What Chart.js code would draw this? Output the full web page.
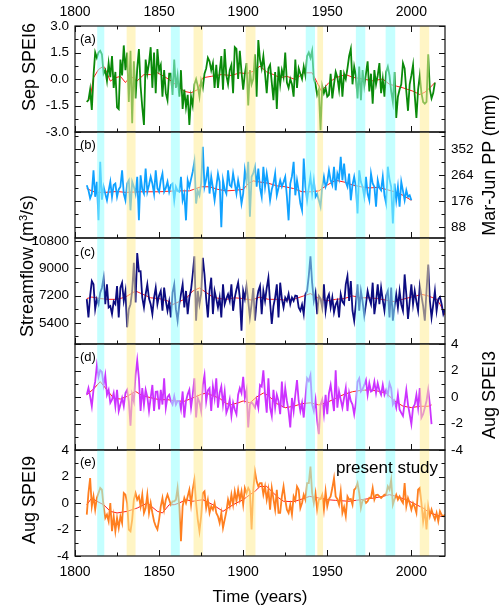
<!DOCTYPE html>
<html><head><meta charset="utf-8">
<script src="https://cdn.jsdelivr.net/npm/chart.js@4/dist/chart.umd.min.js"></script>
<style>
html,body{margin:0;padding:0;background:#fff;}
#wrap{position:relative;width:500px;height:613px;overflow:hidden;font-family:"Liberation Sans",Arial,sans-serif;color:#000;}
canvas{position:absolute;left:0;top:0;}
.yt{position:absolute;font-size:18px;white-space:nowrap;transform:translate(-50%,-50%) rotate(-90deg);line-height:1;}
.yt sup{font-size:11px;vertical-align:6px;line-height:0;}
.pl{position:absolute;font-size:13px;line-height:1;transform:translateY(-50%);}
</style></head><body>
<div id="wrap">
<canvas id="c0" width="500" height="613"></canvas>
<canvas id="c1" width="500" height="613"></canvas>
<canvas id="c2" width="500" height="613"></canvas>
<canvas id="c3" width="500" height="613"></canvas>
<canvas id="c4" width="500" height="613"></canvas>
<div class="yt" style="left:29px;top:67px;">Sep SPEI6</div>
<div class="yt" style="left:489px;top:165px;">Mar-Jun PP (mm)</div>
<div class="yt" style="left:27px;top:266px;">Streamflow (m<sup>3</sup>/s)</div>
<div class="yt" style="left:489px;top:395px;">Aug SPEI3</div>
<div class="yt" style="left:29px;top:500px;">Aug SPEI9</div>
<div class="pl" style="left:80px;top:37.5px;">(a)</div>
<div class="pl" style="left:80px;top:144px;">(b)</div>
<div class="pl" style="left:80px;top:251px;">(c)</div>
<div class="pl" style="left:80px;top:356px;">(d)</div>
<div class="pl" style="left:80px;top:461px;">(e)</div>
<div class="pl" style="left:336px;top:467px;font-size:17px;">present study</div>
</div>
<script>
// ---------------- DATA ----------------
// highlighted periods (years)
const cyanBands = [[1813.2,1817.4],[1857.0,1862.3],[1937.2,1942.7],[1967.0,1972.6],[1984.7,1990.4]];
const yellowBands = [[1830.7,1836.0],[1870.5,1876.0],[1901.5,1907.3],[1944.1,1947.5],[2005.0,2010.6]];

// (a) Sep SPEI6, annual from 1807
const speiSepStart = 1807;
const speiSep = [-1.3,-1.2,-0.6,-1.75,0.2,1.5,1.2,1.5,1.6,1.4,0.3,0.5,-0.1,0.9,0.1,1.3,-0.5,0.4,-1.6,-1.7,
1.1,0.2,1.9,0.5,1.5,-1.3,1.6,-2.5,1.0,-1.1,0.6,1.7,-0.4,-1.6,-2.6,1.1,0.3,0.9,1.8,-0.5,
1.5,-0.8,1.7,0.5,0.8,-1.0,0.5,-0.8,-1.2,0.3,0.3,-0.9,1.1,-0.5,0.2,-1.0,0.5,-1.7,-0.6,-1.6,
-0.9,-2.6,-1.0,-1.5,-0.3,0.0,-0.4,-1.0,-0.1,-0.5,0.3,0.6,1.2,1.0,0.5,0.9,-0.5,0.8,-0.5,0.4,
1.3,-0.6,1.7,0.2,-0.3,0.5,0.8,-0.8,1.8,1.7,0.0,1.6,0.4,-0.6,0.3,0.9,-1.5,0.5,-0.3,0.0,
1.4,-1.0,2.2,1.1,0.6,1.3,0.3,-0.8,0.6,0.8,-0.2,-1.2,0.4,-1.7,0.7,-0.3,0.5,0.1,1.5,-0.2,
-0.5,0.0,-0.3,-1.0,1.1,-0.5,0.6,0.3,0.0,0.7,0.2,1.3,1.5,1.2,1.6,0.0,-0.3,-0.9,-0.6,-2.9,
-0.4,-0.8,-0.5,-1.0,-0.9,0.3,-1.1,-0.3,0.4,0.1,-0.6,0.5,-1.0,0.3,0.0,0.6,1.3,1.7,-0.3,0.7,
0.2,-1.1,0.7,-1.2,0.5,-0.4,0.3,1.0,-0.7,0.3,-1.4,0.5,-0.3,0.2,0.9,-0.8,0.0,-1.0,0.4,0.7,
0.2,-0.7,-1.3,0.4,-2.2,-1.0,-0.6,-0.3,0.9,0.6,-0.7,-1.8,-0.3,0.2,0.8,-0.9,-2.2,-0.6,0.2,-0.8,
-1.3,-1.4,-1.3,1.4,-0.6,-1.1,-0.8,-0.2];
const speiSepSmYears = [1807,1809,1811,1814,1817,1819,1821,1824,1827,1830,1833,1837,1841,1845,1849,1853,1857,1861,1865,1869,1873,1876,1881,1887,1893,1898,1902,1906,1910,1914,1918,1922,1926,1931,1936,1941,1944,1946.5,1951,1955,1961,1965,1971,1977,1983,1987,1991,1995,2001,2005,2008,2011,2014];
const speiSepSm = [-1.3,-1.07,0.07,0.54,0.73,0.35,-0.12,0.07,0.15,-0.2,0.15,-0.1,0.25,0.25,0.35,0.15,-0.1,-0.4,-0.7,-0.78,-0.6,0.07,0.15,0.25,0.2,0.35,0.3,0.44,0.73,0.4,0.25,0.07,0.15,-0.03,0.35,0.35,-0.2,-0.69,-0.2,0.07,0.25,0.1,0.0,-0.1,0.0,-0.3,-0.4,-0.5,-0.69,-0.88,-0.75,-0.5,-0.2];

// (b) Mar-Jun precipitation (mm), annual from 1807
const ppStart = 1807;
const pp = [229,212,185,200,280,190,241,110,309,180,224,200,178,210,241,190,230,235,190,215,
224,280,200,178,235,246,144,241,224,200,258,110,263,215,201,286,207,230,258,235,
200,280,218,207,246,269,207,220,241,207,230,235,178,224,210,207,258,178,200,110,
246,224,250,275,309,167,210,195,235,360,224,250,292,201,258,220,178,224,269,240,
87,246,215,201,280,230,224,269,235,201,246,215,167,201,280,240,309,122,258,270,
292,224,286,220,190,292,224,269,230,178,215,235,269,195,220,246,224,240,258,190,
110,235,260,309,195,246,210,167,144,320,224,178,220,258,201,246,190,200,178,156,
224,258,224,240,280,246,230,292,212,269,250,326,246,303,240,224,269,178,230,258,
224,133,280,240,224,190,258,200,178,269,235,224,156,246,220,212,258,195,167,292,
250,224,99,235,178,224,156,241,210,178,212,190,195,178];
const ppSmYears = [1807,1812,1818,1825,1830,1840,1850,1860,1868,1875,1880,1885,1890,1895,1900,1903,1906,1910,1915,1920,1925,1930,1935,1940,1945,1950,1955,1960,1965,1970,1975,1980,1985,1990,1995,2000];
const ppSm = [218,205,205,208,205,207,207,210,210,224,224,215,210,212,215,235,244,240,236,227,224,218,207,207,210,230,246,240,230,224,220,222,215,207,195,178];

// (c) Streamflow (m3/s), annual from 1807
const flowStart = 1807;
const flow = [6958,5757,7176,8158,7940,6303,6958,6630,7394,7700,8376,6630,7940,6412,6500,5976,6800,6630,7830,5757,
7722,8049,6849,7500,5102,6300,6630,7503,9358,6740,10012,8800,8812,7067,6412,7285,7940,7000,6630,5976,
7067,7722,6630,7200,7503,6194,7722,6849,6194,6800,5757,7394,7940,6303,5540,6630,7300,7940,6412,7503,
5976,7067,7600,8594,9794,5540,7503,6630,7300,9685,8594,7000,5757,7503,8376,5976,7503,7000,6412,7067,
5757,7940,6630,7000,7285,6849,7940,6194,7067,7600,8049,7067,4885,7503,7000,7830,6849,5757,6630,7700,
5540,6849,7500,7830,5976,7503,6849,7700,8376,6740,5321,6500,7067,7940,5757,8049,7000,6412,7067,6849,
7300,6630,7067,6849,7200,7176,6412,6194,6600,5976,7285,7503,8500,9794,8049,6849,7394,5976,7176,7000,
6412,7940,6194,7000,7285,6412,7067,6085,6600,6849,5757,7285,6800,6630,7940,8485,6849,8158,6200,5540,
6630,7940,6194,7503,6800,5867,6630,7503,7000,6630,8049,5976,6800,7940,6630,7722,6900,6194,7200,7503,
5757,7722,5540,6500,7285,6412,7503,6600,6194,8594,7285,5650,6800,7940,6630,7503,6800,6194,7830,7176,
6500,5540,7503,9249,6849,5757,6600,7503,6194,6958,7100,6630,5976,6300];
const flowSmYears = [1807,1810,1815,1820,1825,1830,1833,1836,1840,1845,1850,1855,1858,1862,1866,1870,1874,1878,1882,1886,1890,1895,1900,1905,1910,1915,1920,1925,1930,1936,1940,1945,1950,1955,1960,1965,1970,1975,1980,1987,1990,1995,2000,2003,2006,2010,2015,2017,2019,2020];
const flowSm = [7000,7100,7000,6950,6950,7100,7300,7500,7300,7050,7000,6850,6600,6800,7000,7500,7700,7400,7100,7000,6950,7050,7000,6900,7100,6950,6950,6900,6950,7176,7330,7000,6850,6950,7000,7176,7050,7050,7000,6850,6800,6958,7100,7176,7285,7176,6958,6630,6194,5900];

// (d) Aug SPEI3, annual from 1807
const spei3Start = 1807;
const spei3 = [0.17,0.67,0.05,-0.7,0.54,1.16,2.4,1.53,2.02,1.9,0.91,1.65,0.17,0.54,-0.44,-0.2,0.3,-0.7,0.54,-1.06,
-0.57,-0.07,-0.69,0.3,0.54,-0.32,-2.17,0.17,-0.32,1.65,2.77,1.41,-1.06,0.67,-0.57,0.54,0.0,-1.06,-0.07,0.91,
-1.06,0.4,0.42,-0.94,0.54,-0.57,1.41,-0.81,0.0,0.17,-0.32,-0.57,0.05,-0.57,-0.3,-0.32,-0.94,0.42,-1.55,-0.32,
0.2,0.54,-0.81,0.17,1.41,-1.55,-0.07,-0.4,-1.06,0.91,1.65,-0.32,0.5,0.67,-1.06,0.79,-0.07,1.41,-0.81,0.3,
0.79,-0.57,0.42,-1.19,-0.81,-0.2,-1.43,-0.44,-0.94,-1.3,0.17,0.67,0.3,1.53,-0.07,0.54,-2.3,-0.57,-0.4,-0.57,
-0.81,-0.2,-0.81,0.91,0.79,2.02,0.17,-1.19,1.41,-0.81,-1.43,0.54,-0.81,0.17,-0.3,-1.3,1.16,-0.81,0.67,-0.3,
-1.06,-2.3,-0.07,-1.06,0.17,1.28,-0.3,-1.06,-0.44,-1.55,-0.07,1.41,1.2,1.65,-0.57,-1.06,-0.2,-1.8,-2.8,-0.57,
-0.2,-1.3,0.17,-1.3,0.3,0.91,-0.07,-1.06,2.02,-0.81,0.42,-0.2,-0.81,-0.07,0.67,-1.06,0.3,-0.3,-0.57,-1.3,
-0.44,1.16,1.41,0.42,0.6,0.91,1.28,0.17,1.04,0.42,0.5,1.16,0.3,1.04,0.5,0.17,0.91,0.17,0.54,0.17,
1.04,0.67,-0.57,-0.3,-0.81,0.17,-0.94,-1.2,-1.43,-0.44,0.54,-0.57,-1.3,-2.05,-0.8,-0.57,0.17,-0.81,0.67,-1.55,
-1.3,-0.81,-0.3,0.54,-0.57,-2.05];
const spei3SmYears = [1807,1811,1815,1819,1823,1827,1831,1836,1840,1845,1850,1855,1860,1865,1870,1875,1878,1882,1886,1890,1893,1897,1900,1904,1908,1912,1915,1920,1925,1930,1935,1940,1945,1950,1955,1960,1965,1970,1975,1980,1985,1990,1995,2000,2005,2010,2012];
const spei3Sm = [0.17,0.6,1.16,0.54,-0.1,-0.15,0.05,0.42,0.1,-0.05,-0.2,-0.2,-0.3,-0.32,-0.07,0.2,0.3,0.1,-0.1,-0.5,-0.57,-0.44,-0.3,-0.44,0.0,0.3,0.1,-0.5,-0.81,-0.7,-0.5,-0.44,-0.6,-0.4,-0.1,0.2,0.4,0.5,0.54,0.45,0.3,-0.3,-0.69,-0.8,-0.7,-0.7,-0.6];

// (e) Aug SPEI9 (present study), annual from 1807
const spei9Start = 1807;
const spei9 = [-0.88,0.75,1.88,-0.25,0.5,-0.5,0.38,0.75,1.13,1.0,-0.25,-1.13,-0.88,-1.38,0.0,-2.13,-1.0,-2.13,-1.13,-1.88,
-1.0,-1.5,0.75,0.63,0.0,-2.0,-2.13,-1.25,0.25,0.75,0.25,0.5,-0.25,0.63,-0.75,-0.38,0.63,-0.75,0.0,-0.75,
-1.38,-1.75,-2.0,-1.25,-0.25,0.38,-0.5,0.25,0.63,0.25,-0.13,0.13,0.13,0.25,1.13,-0.25,-2.88,-0.25,0.38,0.0,
0.5,1.0,-0.13,1.0,1.75,0.0,-1.25,-2.13,-1.0,0.75,0.88,-0.38,0.25,-0.75,-0.25,-0.5,0.0,-0.75,-1.0,-1.5,
-0.75,-1.88,-1.25,-0.63,0.25,-0.25,0.63,-0.13,0.88,0.13,1.0,0.25,0.88,-0.13,1.13,0.75,1.13,0.88,-2.0,1.0,
2.38,1.63,1.25,1.5,1.5,0.63,1.25,0.25,1.0,-0.5,1.13,0.3,-0.5,1.0,-0.75,-0.75,0.5,1.25,0.25,-0.5,
-0.75,-0.13,-0.88,0.5,0.2,1.25,1.0,-0.38,0.0,0.63,0.25,1.5,1.5,2.75,0.75,0.0,0.75,-0.5,0.25,0.3,
0.63,-0.5,0.88,-0.25,0.3,0.5,1.13,1.88,0.5,0.3,-0.13,0.88,-0.75,-0.3,-1.0,0.5,0.25,0.3,-0.13,1.0,
1.13,1.5,0.75,-0.38,0.2,0.25,0.0,0.13,0.4,0.38,1.13,0.25,0.6,0.63,0.5,0.38,0.5,0.63,0.63,1.25,
1.0,1.75,-0.13,0.3,0.63,0.25,0.5,0.2,0.0,1.5,-0.25,0.38,0.0,-0.5,0.0,-0.3,-0.75,1.0,1.13,0.0,
-1.38,-0.5,-2.0,-0.25,-1.0,-0.5,-0.9,-1.25,-0.75,-1.38,-0.63,-0.9,-1.0,-0.88];
const spei9SmYears = [1807,1810,1813,1817,1821,1825,1831,1837,1843,1849,1852,1856,1859,1862,1866,1870,1876,1882,1888,1894,1900,1904,1907,1910,1914,1918,1921,1924,1930,1935,1939.5,1944,1950,1955,1963,1970,1978,1983,1987,1991,1997,2003,2007,2011,2015,2017,2020];
const spei9Sm = [-0.13,0.38,0.13,-0.13,-0.63,-0.75,-0.63,-0.38,0.0,-0.63,-0.75,-0.13,-0.13,0.0,0.25,0.13,0.25,-0.13,-0.63,-0.13,0.25,0.63,0.88,1.25,1.25,0.75,0.4,0.13,0.1,0.3,0.5,0.4,0.25,0.2,0.13,0.25,0.38,0.5,0.63,0.5,0.25,-0.13,-0.38,-0.75,-0.9,-1.0,-1.0];

const yearTicks = [1800,1850,1900,1950,2000];

// ---------------- LAYOUT ----------------
const W = 500, H = 613;
const PLOT_LEFT = 75, PLOT_RIGHT = 445;
const PANEL_TOPS = [26,132,238,344,450];
const PANEL_H = 106;

function series(start, vals){ return vals.map((v,i)=>({x:start+i, y:v})); }
function pairs(xs, ys){ return xs.map((x,i)=>({x:x, y:ys[i]})); }

const FONT = '"Liberation Sans", Arial, sans-serif';

const panels = [
  {main: series(speiSepStart, speiSep), sm: pairs(speiSepSmYears, speiSepSm), color:'#0a8a0a',
   min:-3, max:3, minor:0.75, labelSide:'left', fmt:v=>v.toFixed(1), ticks:[-3,-1.5,0,1.5,3]},
  {main: series(ppStart, pp), sm: pairs(ppSmYears, ppSm), color:'#10a2ff',
   min:50, max:410, minor:44, labelSide:'right', fmt:v=>String(v), ticks:[88,176,264,352]},
  {main: series(flowStart, flow), sm: pairs(flowSmYears, flowSm), color:'#0c0c80',
   min:4000, max:11000, minor:900, labelSide:'left', fmt:v=>String(v), ticks:[5400,7200,9000,10800]},
  {main: series(spei3Start, spei3), sm: pairs(spei3SmYears, spei3Sm), color:'#cc33ff',
   min:-4, max:4, minor:1, labelSide:'right', fmt:v=>String(v), ticks:[-4,-2,0,2,4]},
  {main: series(spei9Start, spei9), sm: pairs(spei9SmYears, spei9Sm), color:'#ff7f20',
   min:-4, max:4, minor:1, labelSide:'left', fmt:v=>String(v), ticks:[-4,-2,0,2,4]}
];

function overlayPlugin(p, idx){
  return {
    id:'overlay'+idx,
    afterDatasetsDraw(chart){
      const ctx = chart.ctx, a = chart.chartArea, xs = chart.scales.x, ys = chart.scales.y;
      ctx.save();
      ctx.beginPath(); ctx.rect(a.left, a.top, a.right-a.left, a.bottom-a.top); ctx.clip();
      const drawBands = (bands, col) => {
        ctx.fillStyle = col;
        bands.forEach(b => {
          const x0 = xs.getPixelForValue(b[0]), x1 = xs.getPixelForValue(b[1]);
          ctx.fillRect(x0, a.top, x1-x0, a.bottom-a.top);
        });
      };
      drawBands(cyanBands, 'rgba(150,255,255,0.55)');
      drawBands(yellowBands, 'rgba(255,236,150,0.55)');
      ctx.restore();
      // frame
      ctx.save();
      ctx.strokeStyle = '#111'; ctx.lineWidth = 1.2;
      ctx.strokeRect(a.left, a.top, a.right-a.left, a.bottom-a.top);
      ctx.lineWidth = 1;
      ctx.beginPath();
      for (let yr = 1800; yr <= 2020; yr += 25) {
        const x = Math.round(xs.getPixelForValue(yr)) + 0.5;
        const len = (yr % 50 === 0) ? 6 : 3.5;
        ctx.moveTo(x, a.bottom); ctx.lineTo(x, a.bottom - len);
        if (idx === 0) { ctx.moveTo(x, a.top); ctx.lineTo(x, a.top + len); }
      }
      const start = Math.ceil(p.min / p.minor - 1e-9) * p.minor;
      for (let v = start; v <= p.max + 1e-9; v += p.minor) {
        const y = Math.round(ys.getPixelForValue(v)) + 0.5;
        const isMajor = p.ticks.some(t => Math.abs(t - v) < 1e-6);
        const len = isMajor ? 6 : 3.5;
        ctx.moveTo(a.left, y); ctx.lineTo(a.left + len, y);
        ctx.moveTo(a.right, y); ctx.lineTo(a.right - len, y);
      }
      ctx.stroke();
      ctx.restore();
    }
  };
}

panels.forEach((p, idx) => {
  const top = PANEL_TOPS[idx], bottom = top + PANEL_H;
  const isTop = idx === 0, isBottom = idx === 4;
  const showX = isTop || isBottom;
  const yTickOpts = (show) => ({
    display: show,
    font: {family: FONT, size: 13.5},
    color: '#000',
    padding: 6,
    callback: v => p.fmt(v)
  });
  const fixTicks = s => { s.ticks = p.ticks.map(v => ({value: v})); };
  new Chart(document.getElementById('c' + idx), {
    type: 'line',
    data: { datasets: [
      { data: p.main, borderColor: p.color, borderWidth: 1.8, pointRadius: 0, tension: 0, fill: false, yAxisID: 'y' },
      { data: p.sm, borderColor: '#ff1c1c', borderWidth: 1, pointRadius: 0, tension: 0, fill: false, yAxisID: 'y' }
    ]},
    options: {
      responsive: false, animation: false, events: [],
      plugins: { legend: {display: false}, tooltip: {enabled: false} },
      layout: { padding: { top: isTop ? 0 : top, bottom: isBottom ? 0 : (H - bottom), left: 0, right: 0 } },
      scales: {
        x: {
          type: 'linear', min: 1800, max: 2020,
          position: isTop ? 'top' : 'bottom',
          display: showX,
          afterFit: s => { if (showX) s.height = isTop ? top : (H - bottom); },
          afterBuildTicks: s => { s.ticks = yearTicks.map(v => ({value: v})); },
          grid: { display: false, drawTicks: false },
          border: { display: false },
          ticks: { font: {family: FONT, size: 14}, color: '#000', padding: isTop ? 5 : 8, maxRotation: 0, autoSkip: false, callback: v => String(v) },
          title: { display: isBottom, text: 'Time (years)', font: {family: FONT, size: 17}, color: '#000', padding: {top: 4, bottom: 5} }
        },
        y: {
          type: 'linear', position: 'left', min: p.min, max: p.max,
          afterFit: s => { s.width = PLOT_LEFT; },
          afterBuildTicks: fixTicks,
          grid: { display: false, drawTicks: false },
          border: { display: false },
          ticks: yTickOpts(p.labelSide === 'left')
        },
        y2: {
          type: 'linear', position: 'right', min: p.min, max: p.max,
          afterFit: s => { s.width = W - PLOT_RIGHT; },
          afterBuildTicks: fixTicks,
          grid: { display: false, drawTicks: false },
          border: { display: false },
          ticks: yTickOpts(p.labelSide === 'right')
        }
      }
    },
    plugins: [overlayPlugin(p, idx)]
  });
});
</script>
</body></html>
